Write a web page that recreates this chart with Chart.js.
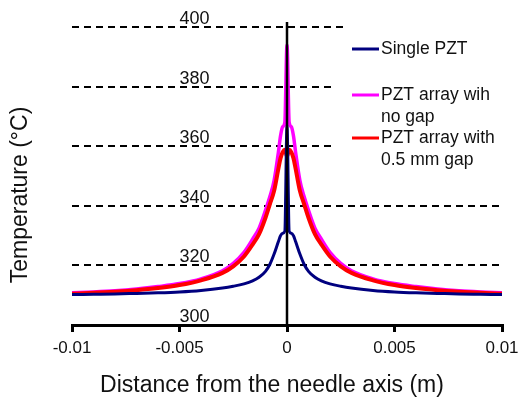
<!DOCTYPE html>
<html>
<head>
<meta charset="utf-8">
<script src="https://cdn.jsdelivr.net/npm/chart.js@4/dist/chart.umd.min.js"></script>
<style>
  html, body { margin: 0; padding: 0; background: #fff; }
</style>
</head>
<body>
<canvas id="js-chart" width="518" height="400"></canvas>
<script>
"use strict";

// distance from the needle axis (m)
const distance = [
  -0.01, -0.009, -0.008, -0.007, -0.006, -0.005, -0.004, -0.003, -0.0025, -0.002,
  -0.0016, -0.0013, -0.001, -0.0008, -0.0006, -0.0004, -0.0003, -0.0002, -0.0001,
  0,
  0.0001, 0.0002, 0.0003, 0.0004, 0.0006, 0.0008, 0.001, 0.0013, 0.0016,
  0.002, 0.0025, 0.003, 0.004, 0.005, 0.006, 0.007, 0.008, 0.009, 0.01
];

// temperature (°C)
const singlePzt = [
  310.2, 310.3, 310.4, 310.6, 310.8, 311.1, 311.6, 312.4, 313, 313.8,
  314.8, 316, 318, 320.3, 323.8, 328, 330, 330.8, 331.5,
  367,
  331.5, 330.8, 330, 328, 323.8, 320.3, 318, 316, 314.8,
  313.8, 313, 312.4, 311.6, 311.1, 310.8, 310.6, 310.4, 310.3, 310.2
];
const arrayNoGap = [
  310.8, 311.1, 311.5, 312.1, 312.9, 313.9, 315.5, 318.2, 320.7, 324.4,
  328.8, 332.5, 338.5, 343, 348.5, 358, 363.5, 366.5, 368,
  394,
  368, 366.5, 363.5, 358, 348.5, 343, 338.5, 332.5, 328.8,
  324.4, 320.7, 318.2, 315.5, 313.9, 312.9, 312.1, 311.5, 311.1, 310.8
];
const arrayGap = [
  310.5, 310.8, 311.2, 311.7, 312.4, 313.4, 315, 317.5, 319.7, 323,
  327, 330.5, 336, 340.5, 345, 352.5, 356, 358, 358.8,
  356.5,
  358.8, 358, 356, 352.5, 345, 340.5, 336, 330.5, 327,
  323, 319.7, 317.5, 315, 313.4, 312.4, 311.7, 311.2, 310.8, 310.5
];

const seriesLabels = [["Single PZT"], ["PZT array wih", "no gap"], ["PZT array with", "0.5 mm gap"]];
const xTicks = [-0.01, -0.005, 0, 0.005, 0.01];
const xTickLabels = ["-0.01", "-0.005", "0", "0.005", "0.01"];
const yTicks = [300, 320, 340, 360, 380, 400];
const yTickLabels = ["300", "320", "340", "360", "380", "400"];

const FONT = "Arial, 'Liberation Sans', sans-serif";

function toPoints(ys) {
  return distance.map((x, i) => ({ x: x, y: ys[i] }));
}

// dashed grid, y labels, axis at x=0, titles and legend
const decor = {
  id: "decor",
  beforeDatasetsDraw(chart) {
    const ctx = chart.ctx;
    const xs = chart.scales.x;
    const ys = chart.scales.y;
    // where each dashed line stops (the legend sits right of the upper ones)
    const ends = { 320: 0.01, 340: 0.01, 360: 0.00225, 380: 0.00225, 400: 0.0027 };
    ctx.save();
    ctx.strokeStyle = "#000";
    ctx.lineWidth = 2;
    ctx.setLineDash([7, 5]);
    yTicks.forEach((v) => {
      if (v === 300) return;
      const y = Math.round(ys.getPixelForValue(v));
      ctx.beginPath();
      ctx.moveTo(xs.left, y);
      ctx.lineTo(xs.getPixelForValue(ends[v]), y);
      ctx.stroke();
    });
    ctx.restore();
  },
  afterDatasetsDraw(chart) {
    const ctx = chart.ctx;
    const xs = chart.scales.x;
    const ys = chart.scales.y;
    ctx.save();

    // vertical axis through x = 0
    const x0 = xs.getPixelForValue(0);
    ctx.strokeStyle = "#000";
    ctx.lineWidth = 2.5;
    ctx.beginPath();
    ctx.moveTo(x0, ys.getPixelForValue(300));
    ctx.lineTo(x0, ys.getPixelForValue(401.7));
    ctx.stroke();

    // y tick labels sit above their lines
    ctx.fillStyle = "#111";
    ctx.font = "18px " + FONT;
    ctx.textAlign = "center";
    ctx.textBaseline = "alphabetic";
    const lx = xs.getPixelForValue(-0.0043);
    yTicks.forEach((v, i) => {
      ctx.fillText(yTickLabels[i], lx, ys.getPixelForValue(v) - 3);
    });

    // axis titles
    ctx.font = "23px " + FONT;
    ctx.fillText("Distance from the needle axis (m)", 272, 392);
    ctx.translate(27, 195);
    ctx.rotate(-Math.PI / 2);
    ctx.fillText("Temperature (°C)", 0, 0);
    ctx.restore();

    // legend
    ctx.save();
    const rowY = [49, 95, 138];
    ctx.font = "17.5px " + FONT;
    ctx.textAlign = "left";
    ctx.textBaseline = "middle";
    chart.data.datasets.forEach((ds, i) => {
      ctx.strokeStyle = ds.borderColor;
      ctx.lineWidth = 3;
      ctx.beginPath();
      ctx.moveTo(352, rowY[i]);
      ctx.lineTo(379, rowY[i]);
      ctx.stroke();
      ctx.fillStyle = "#111";
      seriesLabels[i].forEach((t, k) => {
        ctx.fillText(t, 381, rowY[i] + k * 22);
      });
    });
    ctx.restore();
  },
};

const ctx = document.getElementById("js-chart").getContext("2d");
const myChart = new Chart(ctx, {
  type: "line",
  data: {
    datasets: [
      {
        label: seriesLabels[0].join(" "),
        data: toPoints(singlePzt),
        borderColor: "#00007f",
        borderWidth: 3,
        order: 0,
      },
      {
        label: seriesLabels[1].join(" "),
        data: toPoints(arrayNoGap),
        borderColor: "#ff00ff",
        borderWidth: 3.5,
        order: 2,
      },
      {
        label: seriesLabels[2].join(" "),
        data: toPoints(arrayGap),
        borderColor: "#ff0000",
        borderWidth: 4,
        order: 1,
      },
    ],
  },
  options: {
    responsive: false,
    animation: false,
    devicePixelRatio: 1,
    layout: { padding: { left: 72, right: 16, top: 27, bottom: 40 } },
    elements: {
      point: { radius: 0 },
      line: { cubicInterpolationMode: "monotone", fill: false },
    },
    plugins: {
      legend: { display: false },
      tooltip: { enabled: false },
    },
    scales: {
      x: {
        type: "linear",
        min: -0.01,
        max: 0.01,
        afterBuildTicks: (s) => {
          s.ticks = xTicks.map((v) => ({ value: v }));
        },
        afterFit: (s) => {
          s.height = 35;
          s.paddingLeft = 0;
          s.paddingRight = 0;
        },
        grid: {
          display: true,
          drawOnChartArea: false,
          drawTicks: true,
          tickLength: 7,
          color: "#000",
          lineWidth: 3,
        },
        border: { display: true, color: "#000", width: 3 },
        ticks: {
          color: "#111",
          font: { size: 17, family: FONT },
          padding: 6,
          maxRotation: 0,
          callback: (v, i) => xTickLabels[i],
        },
      },
      y: {
        type: "linear",
        display: false,
        min: 300,
        max: 400,
      },
    },
  },
  plugins: [decor],
});
</script>
</body>
</html>
